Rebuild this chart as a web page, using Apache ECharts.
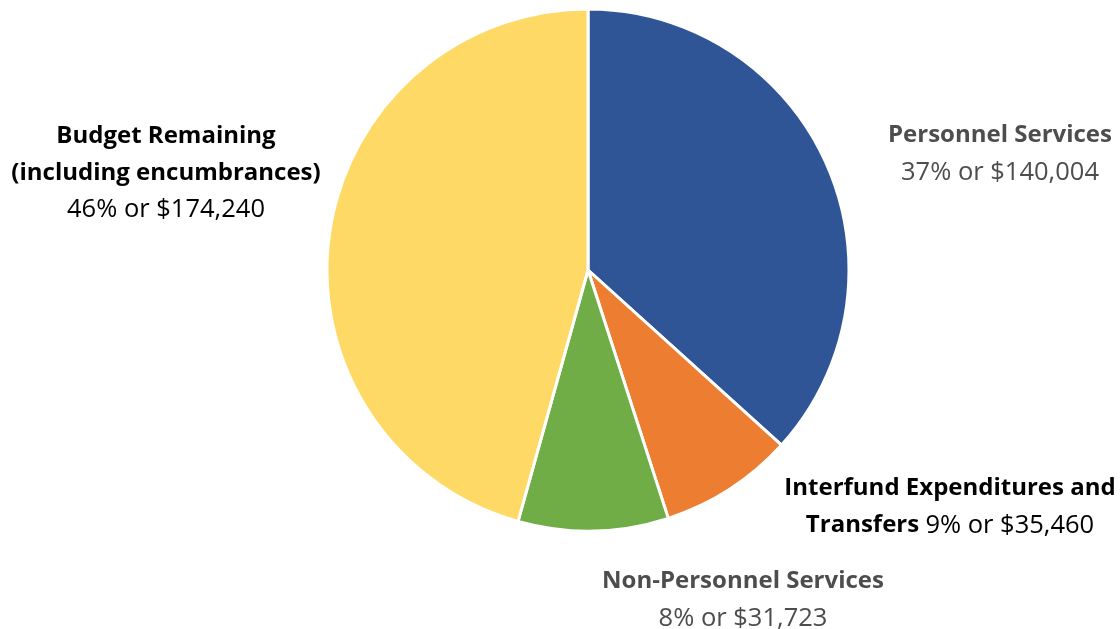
<!DOCTYPE html>
<html>
<head>
<meta charset="utf-8">
<script src="https://cdn.jsdelivr.net/npm/echarts@6/dist/echarts.min.js"></script>
<style>html,body{margin:0;padding:0;background:#fff}#c{width:1120px;height:629px}</style>
</head>
<body>
<div id="c"></div>
<script>
// Slices in drawing order (clockwise from 12 o'clock)
var categories = ['Personnel Services', 'Interfund Expenditures and Transfers', 'Non-Personnel Services', 'Budget Remaining (including encumbrances)'];
// Slice sizes as drawn in the picture
var values = [140004, 31723, 35460, 174240];
// Amounts and percentages as printed in the labels
var labelAmounts = ['$140,004', '$35,460', '$31,723', '$174,240'];
var labelPercents = ['37%', '9%', '8%', '46%'];
var colors = ['#2F5597', '#ED7D31', '#70AD47', '#FFD966'];

var labelPos = [[1000, 154], [950, 507], [743, 600], [166, 173]];

var chart = echarts.init(document.getElementById('c'));
var FONT = 'Open Sans';
var BS = 24, RS = 25.5, LH = 37;
chart.setOption({
  animation: false,
  series: [{
    type: 'pie',
    center: [588, 270],
    radius: 261,
    startAngle: 90,
    clockwise: true,
    itemStyle: { borderColor: '#fff', borderWidth: 3 },
    labelLine: { show: false },
    emphasis: { disabled: true },
    label: {
      show: true,
      position: 'outside',
      overflow: 'none',
      fontFamily: FONT,
      fontSize: BS,
      lineHeight: LH,
      align: 'center',
      formatter: function (p) {
        var i = p.dataIndex;
        var pct = labelPercents[i] + ' or ' + labelAmounts[i];
        switch (i) {
          case 0: return '{gb|' + categories[0] + '}\n{gr|' + pct + '}';
          case 1: return '{kb|Interfund Expenditures and}\n{kb|Transfers} {kr|' + pct + '}';
          case 2: return '{gb|' + categories[2] + '}\n{gr|' + pct + '}';
          default: return '{kb|Budget Remaining}\n{kb|(including encumbrances)}\n{kr|' + pct + '}';
        }
      },
      rich: {
        gb: { fontFamily: FONT, fontSize: BS, fontWeight: 'bold', color: '#4d4d4d', lineHeight: LH },
        gr: { fontFamily: FONT, fontSize: RS, color: '#4d4d4d', lineHeight: LH },
        kb: { fontFamily: FONT, fontSize: BS, fontWeight: 'bold', color: '#000', lineHeight: LH },
        kr: { fontFamily: FONT, fontSize: RS, color: '#000', lineHeight: LH }
      }
    },
    labelLayout: function (params) {
      var p = labelPos[params.dataIndex];
      return { x: p[0], y: p[1], align: 'center', verticalAlign: 'middle', hideOverlap: false };
    },
    data: categories.map(function (c, i) {
      return { name: c, value: values[i], itemStyle: { color: colors[i] } };
    })
  }]
});
</script>
</body>
</html>
